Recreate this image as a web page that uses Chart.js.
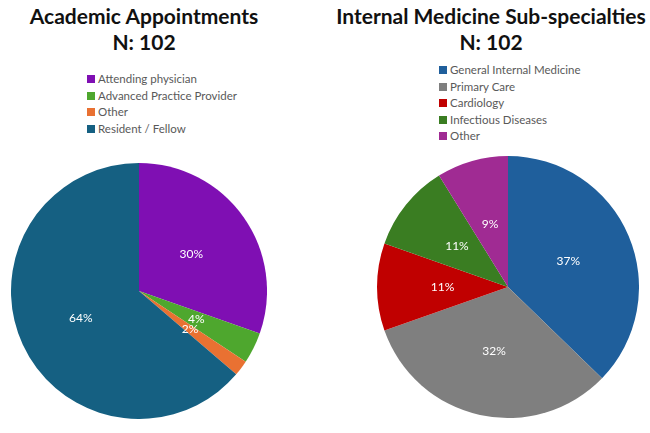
<!DOCTYPE html>
<html>
<head>
<meta charset="utf-8">
<script src="https://cdn.jsdelivr.net/npm/chart.js@4.4.1/dist/chart.umd.min.js"></script>
<style>
  body { margin: 0; background: #fff; width: 650px; height: 433px; overflow: hidden; position: relative; font-family: "Lato", "Noto Sans", sans-serif; }
  .titulo { position: absolute; text-align: center; font-weight: bold; font-size: 21px; line-height: 26px; color: #111; white-space: nowrap; font-family: "Lato", sans-serif; }
  .leyenda { position: absolute; font-size: 11.5px; color: #595959; line-height: 16.6px; font-family: "Lato", "Noto Sans", sans-serif; }
  .leyenda div { white-space: nowrap; }
  .leyenda span { display: inline-block; width: 8px; height: 8px; margin-right: 3px; vertical-align: -0px; }
  canvas { position: absolute; }
</style>
</head>
<body>
<div class="titulo" style="left:0px; width:288px; top:3px;">Academic Appointments<br>N: 102</div>
<div class="titulo" style="left:331px; width:320px; top:3px;">Internal Medicine Sub-specialties<br>N: 102</div>
<div class="leyenda" id="leyenda1" style="left:87px; top:71px;"></div>
<div class="leyenda" id="leyenda2" style="left:439px; top:62px;"></div>
<canvas id="pie1" style="left:11px; top:163px;" width="256" height="256"></canvas>
<canvas id="pie2" style="left:377px; top:156px;" width="262" height="262"></canvas>
<script>
// datos del grafico 1
const puestos = ["Attending physician", "Advanced Practice Provider", "Other", "Resident / Fellow"];
const puestosN = [31, 4, 2, 65];
const puestosColores = ["#7F0FB3", "#4EA72E", "#E97132", "#156082"];

// datos del grafico 2
const especialidades = ["General Internal Medicine", "Primary Care", "Cardiology", "Infectious Diseases", "Other"];
const especialidadesN = [38, 33, 11, 11, 9];
const especialidadesColores = ["#1F5F9C", "#7F7F7F", "#C00000", "#3A7D22", "#A02B93"];

// etiquetas de porcentaje dentro de cada trozo
const etiquetasPct = {
  id: "etiquetasPct",
  afterDatasetsDraw(chart) {
    const ctx = chart.ctx;
    const ds = chart.data.datasets[0];
    const total = ds.data.reduce((a, b) => a + b, 0);
    const meta = chart.getDatasetMeta(0);
    ctx.save();
    ctx.fillStyle = "#fff";
    ctx.font = "12px 'Lato', 'Noto Sans', sans-serif";
    ctx.textAlign = "center";
    ctx.textBaseline = "middle";
    meta.data.forEach((arc, i) => {
      const p = arc.tooltipPosition();
      ctx.fillText(Math.round(ds.data[i] / total * 100) + "%", p.x, p.y);
    });
    ctx.restore();
  }
};

function hacerLeyenda(id, etiquetas, colores) {
  const div = document.getElementById(id);
  etiquetas.forEach((e, i) => {
    const fila = document.createElement("div");
    fila.innerHTML = `<span style="background:${colores[i]}"></span>${e}`;
    div.appendChild(fila);
  });
}

function hacerPie(id, etiquetas, valores, colores) {
  new Chart(document.getElementById(id), {
    type: "pie",
    data: {
      labels: etiquetas,
      datasets: [{ data: valores, backgroundColor: colores, borderWidth: 0 }]
    },
    options: {
      responsive: false,
      animation: false,
      layout: { padding: 0 },
      plugins: { legend: { display: false }, tooltip: { enabled: false } }
    },
    plugins: [etiquetasPct]
  });
}

hacerLeyenda("leyenda1", puestos, puestosColores);
hacerLeyenda("leyenda2", especialidades, especialidadesColores);
hacerPie("pie1", puestos, puestosN, puestosColores);
hacerPie("pie2", especialidades, especialidadesN, especialidadesColores);
</script>
</body>
</html>
